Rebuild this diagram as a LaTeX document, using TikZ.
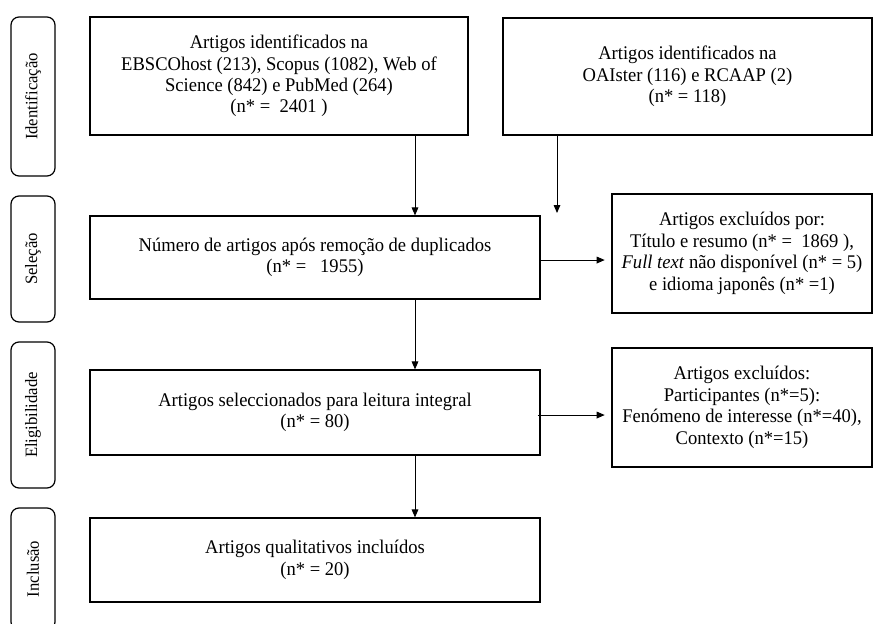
\documentclass[tikz,border=0pt]{standalone}
\usepackage{fontspec}
\setmainfont[FakeStretch=0.96]{Liberation Serif}
\usetikzlibrary{arrows.meta}

\tikzset{
  fase/.style={draw, rounded corners=6pt, line width=0.9pt, rotate=90, minimum height=33pt, inner sep=0pt, font=\fontsize{13}{14}\selectfont},
  caixa/.style={draw, line width=0.9pt, align=center, inner sep=0pt, font=\fontsize{14.5}{16.1}\selectfont},
  seta/.style={-{Triangle[length=6pt,width=5pt]}, line width=0.75pt},
}

\begin{document}
\begin{tikzpicture}[x=0.75pt,y=0.75pt,yscale=-1,xscale=1]
\useasboundingbox (0,0) rectangle (874,624);

%Fases
\node [fase, minimum width=119.25pt] (fId) at (33,96.5) {Identificação};
\node [fase, minimum width=94.5pt] (fSel) at (33,259) {Seleção};
\node [fase, minimum width=109.5pt] (fEle) at (33,415) {Eligibilidade};
\node [fase, minimum width=91.5pt] (fInc) at (33,569) {Inclusão};

%Caixas principais
\node [caixa, minimum width=283.5pt, minimum height=88.5pt] (bases) at (279,76) {Artigos identificados na\\EBSCOhost (213), Scopus (1082), Web of\\Science (842) e PubMed (264)\\(n* = \ 2401 )};
\node [caixa, minimum width=276.75pt, minimum height=87.75pt] (outras) at (687.5,76.5) {Artigos identificados na\\OAIster (116) e RCAAP (2)\\(n* = 118)};
\node [caixa, minimum width=337.5pt, minimum height=62.25pt] (dupl) at (315,257.5) {Número de artigos após remoção de duplicados\\(n* = \ \ 1955)};
\node [caixa, minimum width=195pt, minimum height=89.25pt] (excl1) at (742,253.5) {Artigos excluídos por:\\Título e resumo (n* = \ 1869 ),\\\textit{Full text} não disponível (n* = 5)\\e idioma japonês (n* =1)};
\node [caixa, minimum width=337.5pt, minimum height=63.75pt] (integral) at (315,412.5) {Artigos seleccionados para leitura integral\\(n* = 80)};
\node [caixa, minimum width=195pt, minimum height=89.25pt] (excl2) at (742,407.5) {Artigos excluídos:\\Participantes (n*=5):\\Fenómeno de interesse (n*=40),\\Contexto (n*=15)};
\node [caixa, minimum width=337.5pt, minimum height=63pt] (incl) at (315,560) {Artigos qualitativos incluídos\\(n* = 20)};

%Setas
\coordinate (eixo) at (415,0);
\coordinate (eixo2) at (557,0);
\coordinate (fim2) at (557,213);
\draw [seta] (bases.south -| eixo) -- (dupl.north -| eixo);
\draw [seta] (outras.south -| eixo2) -- (fim2);
\draw [seta, shorten >=5pt] ([yshift=1.9pt]dupl.east) -- ([yshift=1.9pt]dupl.east -| excl1.west);
\draw [seta] (dupl.south -| eixo) -- (integral.north -| eixo);
\draw [seta, shorten >=5pt] ([xshift=-2.25pt,yshift=1.9pt]integral.east) -- ([yshift=1.9pt]integral.east -| excl2.west);
\draw [seta] (integral.south -| eixo) -- (incl.north -| eixo);

\end{tikzpicture}
\end{document}
